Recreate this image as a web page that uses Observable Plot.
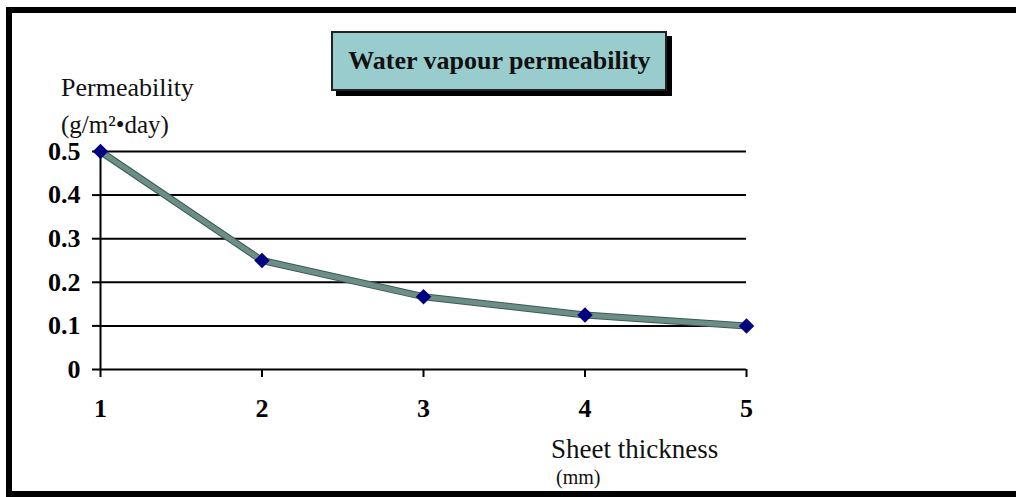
<!DOCTYPE html>
<html>
<head>
<meta charset="utf-8">
<script src="https://cdn.jsdelivr.net/npm/d3@7"></script>
<script src="https://cdn.jsdelivr.net/npm/@observablehq/plot@0.6"></script>
<style>
  html, body { margin: 0; padding: 0; background: #fff; overflow: hidden; width: 1016px; height: 497px; }
  #wrap { position: relative; width: 1016px; height: 497px; font-family: "Liberation Serif", "Times New Roman", serif; }
  #frame { position: absolute; left: 6px; top: 7px; width: 1030px; height: 490px; box-sizing: border-box; border: 6px solid #000; pointer-events: none; }
  #title { position: absolute; left: 331px; top: 31px; width: 336px; height: 60px; box-sizing: border-box; border: 2px solid #222; background: #99cccc; box-shadow: 5px 5px 0 #000; display: flex; align-items: center; justify-content: center; }
  #title span { display: inline-block; font-weight: bold; font-size: 25px; transform: scaleX(1.04); color: #111; }
  .lab { position: absolute; font-size: 26px; color: #111; white-space: nowrap; line-height: 1; }
  #chart { position: absolute; left: 0; top: 0; }
</style>
</head>
<body>
<div id="wrap">
  <div id="chart"></div>
  <div id="frame"></div>
  <div id="title"><span>Water vapour permeability</span></div>
  <div class="lab" style="left:61px; top:75px;">Permeability</div>
  <div class="lab" style="left:61px; top:114px; font-size:25px; line-height:0.9;">(g/m²•day)</div>
  <div class="lab" style="left:551px; top:436px; font-size:27px;">Sheet thickness</div>
  <div class="lab" style="left:556px; top:467px; font-size:20px;">(mm)</div>
</div>
<script>
const thickness = [1, 2, 3, 4, 5];
const permeability = [0.5, 0.25, 0.167, 0.125, 0.1];
const yTicks = [0, 0.1, 0.2, 0.3, 0.4, 0.5];
const xTicks = [1, 2, 3, 4, 5];

const data = thickness.map((t, i) => ({t, p: permeability[i]}));

const chart = Plot.plot({
  width: 1016,
  height: 497,
  marginLeft: 100,
  marginRight: 270,
  marginTop: 151,
  marginBottom: 128,
  style: {fontFamily: "Liberation Serif, serif", fontSize: "26px", fontWeight: "bold", color: "#000", background: "transparent"},
  x: {domain: [1, 5]},
  y: {domain: [0, 0.5]},
  marks: [
    Plot.ruleY(yTicks, {x1: 1, x2: 5, stroke: "#000", strokeWidth: 2}),
    Plot.ruleX([1], {y1: 0, y2: 0.5, stroke: "#000", strokeWidth: 2}),
    Plot.axisY({ticks: yTicks, tickSize: 8, tickPadding: 12, strokeWidth: 2, tickFormat: d => String(+d.toFixed(1)), label: null}),
    Plot.axisX({ticks: xTicks, tickSize: 8, tickPadding: 21, strokeWidth: 2, tickFormat: d => String(d), label: null}),
    Plot.line(data, {x: "t", y: "p", stroke: "#3b5a55", strokeWidth: 7}),
    Plot.line(data, {x: "t", y: "p", stroke: "url(#hatch)", strokeWidth: 5}),
    Plot.dot(data, {x: "t", y: "p", symbol: "diamond2", r: 7, fill: "#000080", stroke: "none"})
  ]
});

const ns = "http://www.w3.org/2000/svg";
const defs = document.createElementNS(ns, "defs");
defs.innerHTML = '<pattern id="hatch" width="2" height="2" patternUnits="userSpaceOnUse">' +
  '<rect width="2" height="2" fill="#9cbdb6"/>' +
  '<rect x="0" y="0" width="1" height="1" fill="#3d5f58"/>' +
  '<rect x="1" y="1" width="1" height="1" fill="#3d5f58"/></pattern>';
chart.insertBefore(defs, chart.firstChild);
document.getElementById("chart").appendChild(chart);
</script>
</body>
</html>
